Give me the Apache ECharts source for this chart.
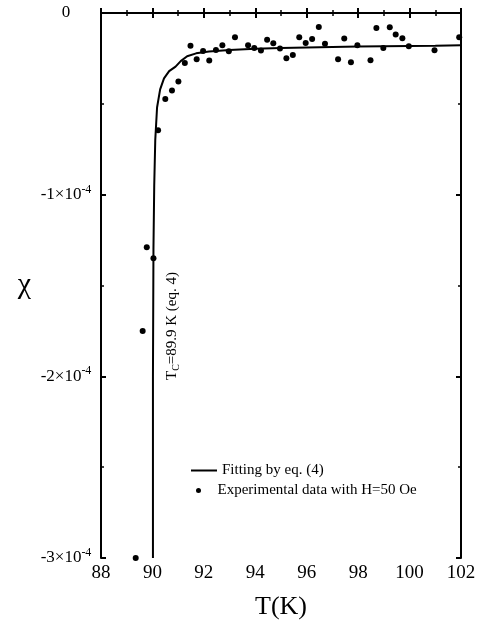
<!DOCTYPE html>
<html>
<head>
    <meta charset="utf-8">
    <title>chi vs T</title>
    <script src="https://cdn.jsdelivr.net/npm/echarts@6/dist/echarts.min.js"></script>
</head>
<body style="margin:0;background:#fff">
    <div id="main" style="width:479px;height:622px;"></div>
    <script type="text/javascript">
        // 温度 (K) 与磁化率 chi (单位 1e-4)
        let expT = [89.35, 89.62, 89.78, 90.04, 90.22, 90.5, 90.76, 91.01, 91.26, 91.48, 91.72, 91.97, 92.21, 92.47, 92.72,
            92.97, 93.21, 93.72, 93.96, 94.22, 94.46, 94.7, 94.96, 95.21, 95.46, 95.71, 95.96, 96.21, 96.47,
            96.71, 97.22, 97.46, 97.72, 97.97, 98.48, 98.71, 98.98, 99.23, 99.46, 99.72, 99.97, 100.97, 101.93];
        let expChi = [-3.0, -1.75, -1.29, -1.35, -0.645, -0.474, -0.427, -0.377, -0.275, -0.18, -0.255, -0.209, -0.262, -0.203, -0.178,
            -0.211, -0.134, -0.178, -0.192, -0.207, -0.147, -0.167, -0.196, -0.249, -0.231, -0.134, -0.165, -0.143, -0.077,
            -0.169, -0.255, -0.141, -0.271, -0.178, -0.26, -0.083, -0.192, -0.079, -0.119, -0.139, -0.183, -0.205, -0.134];

        let fitT = [90.02, 90.02, 90.04, 90.07, 90.11, 90.18, 90.3, 90.45, 90.65, 90.9, 91.1, 91.35, 91.7, 92.2, 93, 94, 95, 96, 97, 98, 99, 100, 101, 102];
        let fitChi = [-3.0, -2.0, -1.3, -0.95, -0.7, -0.52, -0.42, -0.36, -0.32, -0.295, -0.265, -0.238, -0.222, -0.212, -0.203,
            -0.197, -0.193, -0.19, -0.187, -0.185, -0.183, -0.181, -0.18, -0.178];

        let xTicks = [88, 90, 92, 94, 96, 98, 100, 102];
        let yTicks = [0, -1, -2, -3];

        let myChart = echarts.init(document.getElementById('main'));
        let serif = 'Liberation Serif';

        let tickStyle = {
            show: true, inside: true, length: 5,
            lineStyle: { color: '#000', width: 2 }
        };
        let minorStyle = {
            show: true, splitNumber: 2, length: 3,
            lineStyle: { color: '#000', width: 1.5 }
        };

        let option = {
            animation: false,
            backgroundColor: '#fff',
            grid: { left: 101, right: 18, top: 13, bottom: 64, outerBoundsMode: 'none', containLabel: false },
            legend: [
                {
                    data: [{ name: 'Fitting by eq. (4)', icon: 'rect' }],
                    left: 186, top: 458, orient: 'vertical',
                    itemWidth: 26, itemHeight: 2,
                    textStyle: { fontFamily: serif, fontSize: 15, color: '#000' }
                },
                {
                    data: [{ name: 'Experimental data with H=50 Oe', icon: 'circle' }],
                    left: 191, top: 478, orient: 'vertical',
                    itemWidth: 28, itemHeight: 5,
                    textStyle: { fontFamily: serif, fontSize: 15, color: '#000' }
                }
            ],
            xAxis: [
                {
                    type: 'value', min: 88, max: 102, interval: 2,
                    name: 'T(K)', nameLocation: 'middle', nameGap: 36,
                    nameTextStyle: { fontFamily: serif, fontSize: 26, color: '#000' },
                    axisLine: { lineStyle: { color: '#000', width: 2 } },
                    axisTick: tickStyle, minorTick: minorStyle,
                    splitLine: { show: false },
                    axisLabel: {
                        fontFamily: serif, fontSize: 19, color: '#000', margin: 6,
                        formatter: v => xTicks.includes(v) ? String(v) : ''
                    }
                },
                {
                    type: 'value', min: 88, max: 102, interval: 2, position: 'top',
                    axisLine: { lineStyle: { color: '#000', width: 2 } },
                    axisTick: tickStyle, minorTick: minorStyle,
                    splitLine: { show: false }, axisLabel: { show: false }
                }
            ],
            yAxis: [
                {
                    type: 'value', min: -3, max: 0, interval: 1,
                    name: 'χ', nameLocation: 'middle', nameGap: 70, nameRotate: 0,
                    nameTextStyle: { fontFamily: serif, fontSize: 30, color: '#000' },
                    axisLine: { lineStyle: { color: '#000', width: 2 } },
                    axisTick: tickStyle, minorTick: minorStyle,
                    splitLine: { show: false },
                    axisLabel: {
                        align: 'center', margin: 35, color: '#000',
                        formatter: v => yTicks.includes(v) ? (v === 0 ? '{a|0}' : '{a|' + v + '×10}{s|-4}') : '',
                        rich: {
                            a: { fontFamily: serif, fontSize: 17, color: '#000', lineHeight: 22 },
                            s: { fontFamily: serif, fontSize: 12, color: '#000', lineHeight: 12, verticalAlign: 'top' }
                        }
                    }
                },
                {
                    type: 'value', min: -3, max: 0, interval: 1, position: 'right',
                    axisLine: { lineStyle: { color: '#000', width: 2 } },
                    axisTick: tickStyle, minorTick: minorStyle,
                    splitLine: { show: false }, axisLabel: { show: false }
                }
            ],
            graphic: [
                {
                    type: 'text', x: 163, y: 380, rotation: Math.PI / 2,
                    style: {
                        text: 'T{c|C}=89.9 K (eq. 4)',
                        rich: {
                            c: { fontFamily: serif, fontSize: 10, fill: '#000', verticalAlign: 'bottom', lineHeight: 10 }
                        },
                        fontFamily: serif, fontSize: 15, fill: '#000', lineHeight: 18
                    }
                }
            ],
            series: [
                {
                    name: 'Fitting by eq. (4)',
                    type: 'line',
                    showSymbol: false, symbol: 'none',
                    lineStyle: { color: '#000', width: 2 },
                    itemStyle: { color: '#000' },
                    data: fitT.map((t, i) => [t, fitChi[i]])
                },
                {
                    name: 'Experimental data with H=50 Oe',
                    type: 'scatter',
                    symbolSize: 6,
                    itemStyle: { color: '#000', opacity: 1 },
                    data: expT.map((t, i) => [t, expChi[i]])
                }
            ]
        };

        myChart.setOption(option);
    </script>
</body>
</html>
